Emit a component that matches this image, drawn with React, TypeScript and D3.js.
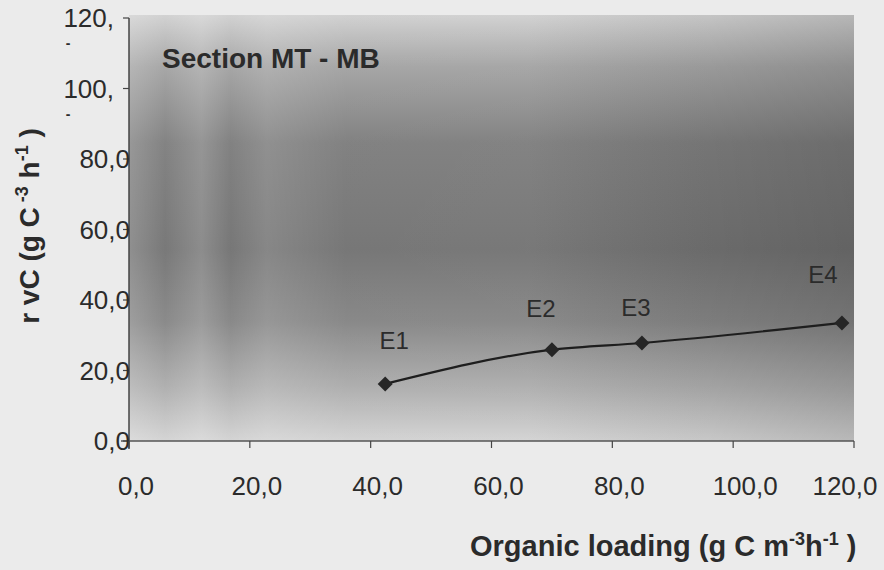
import React from 'react'
import * as d3 from 'd3'

// values
const pointNames = ['E1', 'E2', 'E3', 'E4']
const loading = [42.4, 70.0, 84.9, 118.0]
const rvC = [16.2, 25.9, 27.8, 33.5]
const xTicks = [0, 20, 40, 60, 80, 100, 120]
const yTicks = [0, 20, 40, 60, 80, 100, 120]

// label nudges (px) for the E-labels, as placed in the original
const labelDx = [9, -11, -6, -19]
const labelDy = [-35, -33, -27, -40]

const W = 884
const H = 570
const left = 129
const right = 854
const top = 18
const bottom = 441

const fmt = (v: number) => v.toFixed(1).replace('.', ',')

export default function App() {
  const x = d3.scaleLinear().domain([0, 120]).range([left, right])
  const y = d3.scaleLinear().domain([0, 120]).range([bottom, top])

  const line = d3
    .line<number>()
    .x((d, i) => x(loading[i]))
    .y((d) => y(d))
    .curve(d3.curveMonotoneX)

  const font = '"Liberation Sans", Arial, sans-serif'
  const ink = '#2b2b2b'

  return (
    <svg width={W} height={H} style={{ position: 'absolute', left: 0, top: 0 }} fontFamily={font}>
      <defs>
        <linearGradient id="vert" x1="0" y1="0" x2="0" y2="1">
          <stop offset="0" stopColor="#cfcfcf" />
          <stop offset="0.12" stopColor="#a2a2a2" />
          <stop offset="0.3" stopColor="#7b7b7b" />
          <stop offset="0.55" stopColor="#707070" />
          <stop offset="0.72" stopColor="#838383" />
          <stop offset="0.88" stopColor="#adadad" />
          <stop offset="1" stopColor="#d2d2d2" />
        </linearGradient>
        <linearGradient id="horiz" x1="0" y1="0" x2="1" y2="0">
          <stop offset="0" stopColor="#ffffff" stopOpacity="0.22" />
          <stop offset="0.05" stopColor="#ffffff" stopOpacity="0.06" />
          <stop offset="0.1" stopColor="#ffffff" stopOpacity="0.2" />
          <stop offset="0.14" stopColor="#ffffff" stopOpacity="0.05" />
          <stop offset="0.19" stopColor="#ffffff" stopOpacity="0.16" />
          <stop offset="0.3" stopColor="#ffffff" stopOpacity="0.05" />
          <stop offset="0.55" stopColor="#ffffff" stopOpacity="0.06" />
          <stop offset="0.8" stopColor="#000000" stopOpacity="0.05" />
          <stop offset="1" stopColor="#000000" stopOpacity="0.12" />
        </linearGradient>
      </defs>

      <rect x={0} y={0} width={W} height={H} fill="#ebebeb" />
      <rect x={left} y={top - 3} width={right - left} height={bottom - top + 3} fill="url(#vert)" />
      <rect x={left} y={top - 3} width={right - left} height={bottom - top + 3} fill="url(#horiz)" />

      {/* axes */}
      <line x1={left} x2={left} y1={top} y2={bottom + 8} stroke="#444" strokeWidth={1.5} />
      <line x1={left - 8} x2={right} y1={bottom} y2={bottom} stroke="#555" strokeWidth={1.5} />

      {yTicks.map((t) => (
        <g key={'y' + t}>
          <line x1={left - 6} x2={left} y1={y(t)} y2={y(t)} stroke="#444" strokeWidth={1.2} />
          <text
            x={t >= 100 ? left - 15 : left + 1}
            y={y(t) + 9}
            textAnchor="end"
            fontSize={26}
            fill={ink}
          >
            {t >= 100 ? t + ',' : fmt(t)}
          </text>
          {t >= 100 && (
            <text x={68} y={y(t) + 30} textAnchor="middle" fontSize={14} fontWeight="bold" fill={ink}>
              -
            </text>
          )}
        </g>
      ))}

      {xTicks.map((t) => (
        <g key={'x' + t}>
          <line x1={x(t)} x2={x(t)} y1={bottom} y2={bottom + 7} stroke="#444" strokeWidth={1.2} />
          <text
            x={x(t) + (t === 120 ? -9 : t === 100 ? 12 : 7)}
            y={495}
            textAnchor="middle"
            fontSize={26}
            fill={ink}
          >
            {fmt(t)}
          </text>
        </g>
      ))}

      <path d={line(rvC) || ''} fill="none" stroke="#1e1e1e" strokeWidth={2.2} />
      {rvC.map((v, i) => {
        const cx = x(loading[i])
        const cy = y(v)
        return (
          <g key={pointNames[i]}>
            <path
              d={`M${cx},${cy - 7.5}L${cx + 7.5},${cy}L${cx},${cy + 7.5}L${cx - 7.5},${cy}Z`}
              fill="#262626"
            />
            <text
              x={cx + labelDx[i]}
              y={cy + labelDy[i]}
              textAnchor="middle"
              fontSize={24}
              fill={ink}
            >
              {pointNames[i]}
            </text>
          </g>
        )
      })}

      <text x={162} y={68} fontSize={28} fontWeight="bold" fill={ink}>
        Section MT - MB
      </text>

      <text
        transform={`translate(39,226) rotate(-90)`}
        textAnchor="middle"
        fontSize={28}
        fontWeight="bold"
        fill={ink}
      >
        r vC (g C
        <tspan dy={-11} fontSize={18}> -3</tspan>
        <tspan dy={11}> h</tspan>
        <tspan dy={-11} fontSize={18}>-1</tspan>
        <tspan dy={11}> )</tspan>
      </text>

      <text x={470} y={556} fontSize={29} fontWeight="bold" fill={ink}>
        Organic loading (g C m
        <tspan dy={-11} fontSize={18}>-3</tspan>
        <tspan dy={11}>h</tspan>
        <tspan dy={-11} fontSize={18}>-1</tspan>
        <tspan dy={11}> )</tspan>
      </text>
    </svg>
  )
}
